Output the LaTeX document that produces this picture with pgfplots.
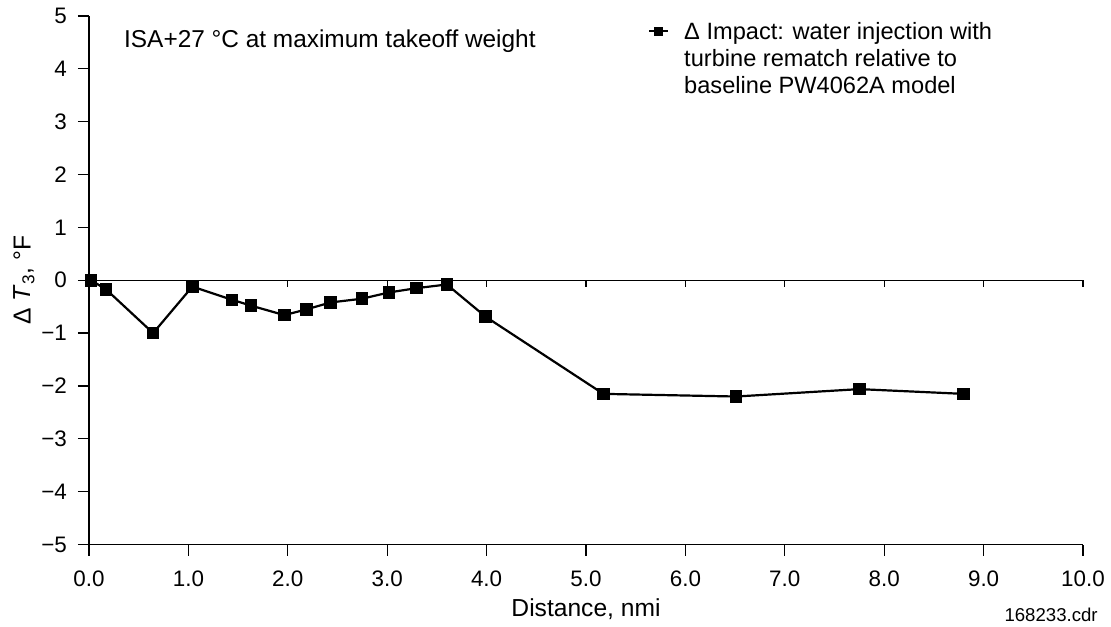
\documentclass[border=0pt]{standalone}
\usepackage{pgfplots}
\pgfplotsset{compat=1.18}
\usepackage{fontspec}
\setmainfont{Liberation Sans}

% Distance (nmi) vs change in T3 (deg F)
\pgfplotstableread{
x     y
0.02  0.00
0.17 -0.17
0.645 -1.00
1.04 -0.12
1.44 -0.37
1.63 -0.48
1.965 -0.66
2.19 -0.55
2.43 -0.42
2.745 -0.35
3.02 -0.23
3.295 -0.15
3.60 -0.08
3.99 -0.69
5.175 -2.15
6.51 -2.20
7.75 -2.06
8.80 -2.15
}\dT

\begin{document}
\begin{tikzpicture}
\begin{axis}[
  name=ax,
  scale only axis,
  width=497pt, height=264.25pt,
  xmin=0, xmax=10, ymin=-5, ymax=5,
  axis x line=bottom, axis y line=left,
  axis line style={-, line width=0.6pt},
  tick style={line width=0.6pt, black},
  tick align=outside,
  major tick length=5.5pt,
  xtick={0,1,...,10},
  xticklabels={0.0,1.0,2.0,3.0,4.0,5.0,6.0,7.0,8.0,9.0,10.0},
  ytick={-5,-4,...,5},
  yticklabels={−5,−4,−3,−2,−1,0,1,2,3,4,5},
  ticklabel style={font=\fontsize{11.2}{13}\selectfont},
  xticklabel style={yshift=-4pt},
  yticklabel style={xshift=-2pt},
  xlabel={Distance, nmi},
  ylabel={Δ \textit{T}\textsubscript{3}, °F},
  every axis x label/.style={at={([yshift=-35.75pt]axis description cs:0.5,0)}, anchor=base,
    font=\fontsize{12.3}{14}\selectfont},
  every axis y label/.style={at={([xshift=-32.5pt]axis description cs:0,0.5)}, anchor=center, rotate=90,
    font=\fontsize{12.3}{14}\selectfont},
  clip=false,
  legend style={at={(axis cs:5.62,5.0)}, anchor=north west, draw=none, fill=none,
    inner sep=0pt, font=\fontsize{11.8}{13.5}\selectfont},
  legend cell align=left,
  legend image code/.code={\draw[mark repeat=2, mark phase=2, #1, mark size=1.6pt]
    plot coordinates {(0pt,0pt) (4.75pt,0pt) (9.5pt,0pt)};
    \path (15pt,0pt);},
]
% zero reference line with its own downward ticks
\draw[line width=0.6pt] (axis cs:0,0) -- (axis cs:10,0);
\pgfplotsinvokeforeach{1,...,10}{\draw[line width=0.6pt] (axis cs:#1,0) -- ++(0pt,-3.5pt);}

\addplot[black, line width=1.1pt, mark=square*, mark size=2.6pt] table[x=x, y=y] {\dT};
\addlegendentry{\begin{tabular}[t]{@{}l@{}}Δ Impact: water injection with\\turbine rematch relative to\\baseline PW4062A model\end{tabular}}

\node[anchor=base west, inner sep=0pt, font=\fontsize{12.2}{14}\selectfont] at (axis cs:0.35,4.41)
  {ISA+27 °C at maximum takeoff weight};
\end{axis}
\node[anchor=east, inner sep=0pt, font=\fontsize{9.3}{11}\selectfont] at ([xshift=7.5pt, yshift=-35.25pt]ax.south east) {168233.cdr};
\pgfresetboundingbox
\path ([xshift=-44.5pt, yshift=-40.75pt]ax.south west) rectangle ([xshift=14pt, yshift=8pt]ax.north east);
\end{tikzpicture}
\end{document}
